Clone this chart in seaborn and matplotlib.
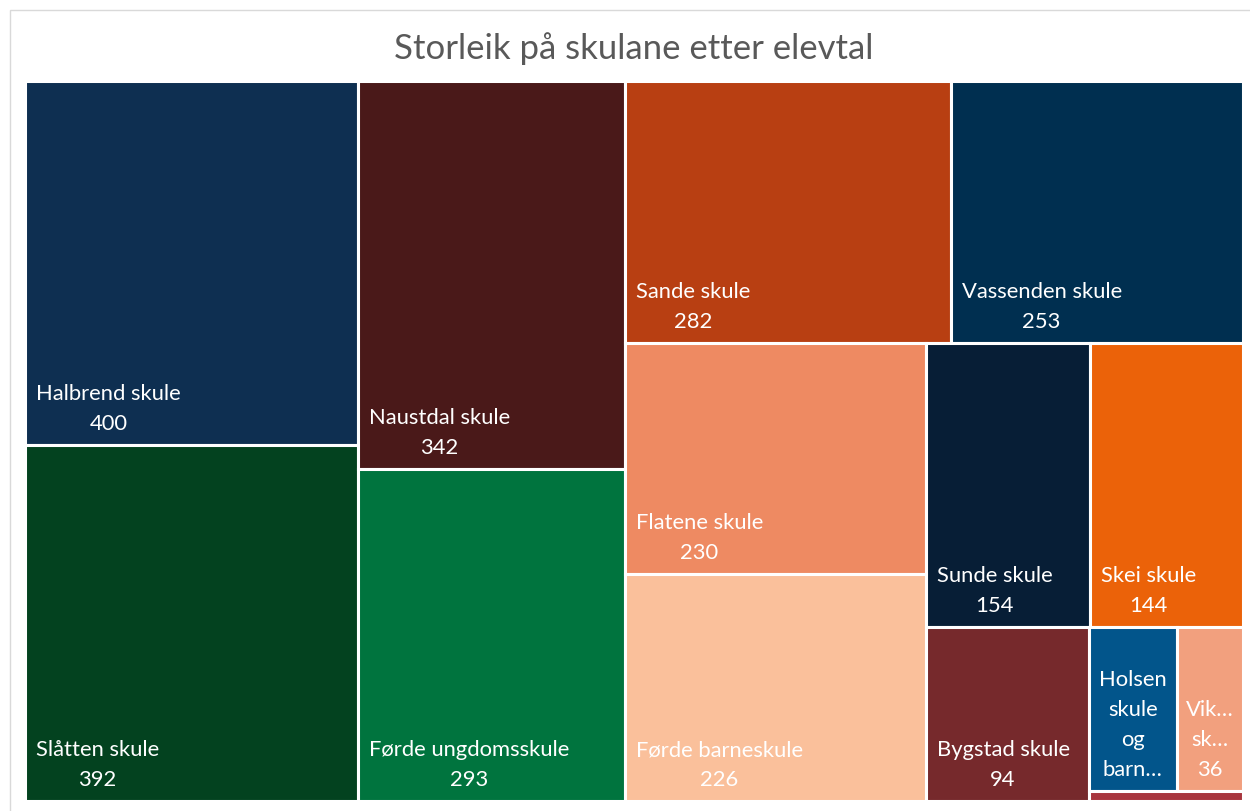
import matplotlib
matplotlib.use("Agg")
import matplotlib.pyplot as plt
import seaborn as sns
from matplotlib.patches import Rectangle

# ================================
# Data
# ================================
schools = [
    "Halbrend skule", "Slåtten skule", "Naustdal skule", "Førde ungdomsskule",
    "Sande skule", "Vassenden skule", "Flatene skule", "Førde barneskule",
    "Sunde skule", "Skei skule", "Bygstad skule", "Holsen skule og barnehage",
    "Vik skule", "Haukedalen skule",
]
pupils = [400, 392, 342, 293, 282, 253, 230, 226, 154, 144, 94, 48, 36, 5]
colors = [
    "#0E2F51", "#03421F", "#4A1919", "#00743E",
    "#B83F12", "#002F50", "#EE8A62", "#FAC09B",
    "#071E36", "#EB6209", "#76292C", "#02558B",
    "#F2A07E", "#A8363E",
]

# labels that Excel wraps / cuts in the narrow boxes
wrapped = {
    "Holsen skule og barnehage": "Holsen\nskule\nog\nbarn…",
    "Vik skule": "Vik…\nsk…",
}
hide_value = {"Holsen skule og barnehage"}
hide_label = {"Haukedalen skule"}

# ================================
# Squarified layout (Excel-ish)
# ================================
W, H = 1218.0, 720.0


def worst(row, side):
    s = sum(row)
    return max(max(s * s / (side * side * r), side * side * r / (s * s)) for r in row)


def squarify(areas, x, y, w, h):
    rects = []
    vals = list(areas)
    while vals:
        side = min(w, h)
        row = [vals.pop(0)]
        while vals:
            rest = sum(vals[1:])
            better = worst(row + [vals[0]], side) <= worst(row, side)
            # don't leave a lone small box next to a tiny remainder
            if better or 0 < rest < 0.1 * (sum(row) + vals[0]):
                row.append(vals.pop(0))
            else:
                break
        s = sum(row)
        if w >= h:
            cw = s / h
            yy = y
            for r in row:
                rects.append((x, yy, cw, r / cw))
                yy += r / cw
            x += cw
            w -= cw
        else:
            rh = s / w
            xx = x
            for r in row:
                rects.append((xx, y, r / rh, rh))
                xx += r / rh
            y += rh
            h -= rh
    return rects


total = sum(pupils)
areas = [v * W * H / total for v in pupils]
rects = squarify(areas, 0.0, 0.0, W, H)

# ================================
# Plot
# ================================
sns.set_theme(style="white")
plt.rcParams["font.family"] = ["Lato", "DejaVu Sans"]

fig = plt.figure(figsize=(12.5, 8.12), dpi=100)
ax = fig.add_axes([25 / 1250, 10 / 812, W / 1250, H / 812])

ax.bar(
    x=[r[0] for r in rects],
    height=[r[3] for r in rects],
    width=[r[2] for r in rects],
    bottom=[r[1] for r in rects],
    align="edge",
    color=colors,
    edgecolor="white",
    linewidth=2.2,
)

for name, val, (x, y, w, h) in zip(schools, pupils, rects):
    if name in hide_label:
        continue
    text = wrapped.get(name, name)
    if name not in hide_value:
        text = f"{text}\n{val}"
    if w < 120:
        tx, ha = x + w / 2, "center"
    else:
        tx, ha = x + 11, "left"
    ax.text(tx, y + h - 12, text, ha=ha, va="bottom",
            multialignment="center", linespacing=1.62,
            fontsize=15.8, color="white")

ax.set_xlim(0, W)
ax.set_ylim(H, 0)
ax.axis("off")

fig.text(634 / 1250, 1 - 49 / 812, "Storleik på skulane etter elevtal",
         ha="center", va="center", fontsize=25, color="#595959")

# chart frame (left and top edge visible)
fig.add_artist(Rectangle((10 / 1250, -0.1), 1.2, 1.1 - 11 / 812,
                         transform=fig.transFigure, fill=False,
                         edgecolor="#D9D9D9", linewidth=1))

fig.savefig("out.png", dpi=100)
print("saved out.png")
